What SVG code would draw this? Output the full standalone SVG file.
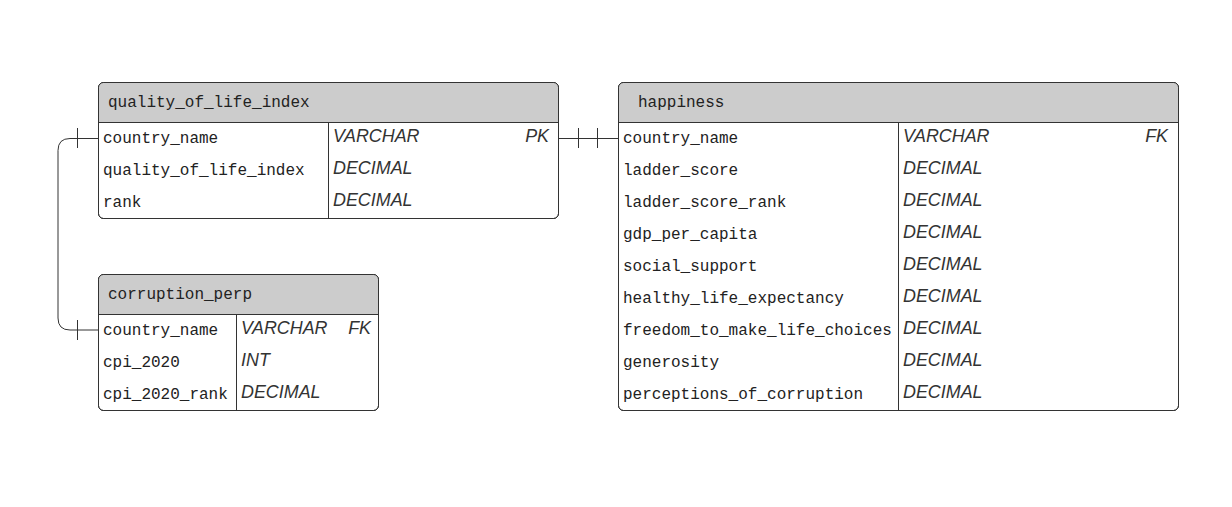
<svg xmlns="http://www.w3.org/2000/svg" width="1232" height="507" viewBox="0 0 1232 507">
<style>
.frame{fill:#ffffff;stroke:#333333;stroke-width:1}
.hdr{fill:#cccccc}
.ln{stroke:#333333;stroke-width:1;fill:none}
.mono{font-family:"Liberation Mono",monospace;font-size:16px;fill:#222222}
.typ{font-family:"Liberation Sans",Arial,sans-serif;font-style:italic;font-size:17.9px;fill:#333333}
.key{font-family:"Liberation Sans",Arial,sans-serif;font-style:italic;font-size:17.9px;fill:#333333;text-anchor:end}
</style>
<rect width="1232" height="507" fill="#ffffff"/>
<g id="connectors">
<path class="ln" d="M558.5 138.5 H618.5"/>
<path class="ln" d="M578.5 128 V148 M597.5 128 V148"/>
<path class="ln" d="M98.5 138.5 H70 Q58 138.5 58 150.5 V318 Q58 330 70 330 H98.5"/>
<path class="ln" d="M77.5 128 V148 M77.5 320 V340"/>
</g>
<g id="quality_of_life_index">
<rect class="frame" x="98.5" y="82.5" width="460" height="136" rx="5"/>
<path class="hdr" d="M103.5 83 H553.5 Q558 83 558 87.5 V122 H99 V87.5 Q99 83 103.5 83 Z"/>
<rect x="98.5" y="82.5" width="460" height="136" rx="5" fill="none" stroke="#333" stroke-width="1"/>
<path class="ln" d="M98.5 122.5 H558.5 M328.5 122.5 V218.5"/>
<text class="mono" x="108" y="107">quality_of_life_index</text>
<text class="mono" x="103" y="143">country_name</text>
<text class="mono" x="103" y="175">quality_of_life_index</text>
<text class="mono" x="103" y="207">rank</text>
<text class="typ" x="333" y="141.5">VARCHAR</text>
<text class="typ" x="333" y="173.5">DECIMAL</text>
<text class="typ" x="333" y="205.5">DECIMAL</text>
<text class="key" x="549" y="141.5">PK</text>
</g>
<g id="corruption_perp">
<rect class="frame" x="98.5" y="274.5" width="280" height="136" rx="5"/>
<path class="hdr" d="M103.5 275 H373.5 Q378 275 378 279.5 V314 H99 V279.5 Q99 275 103.5 275 Z"/>
<rect x="98.5" y="274.5" width="280" height="136" rx="5" fill="none" stroke="#333" stroke-width="1"/>
<path class="ln" d="M98.5 314.5 H378.5 M236.5 314.5 V410.5"/>
<text class="mono" x="108" y="299">corruption_perp</text>
<text class="mono" x="103" y="335">country_name</text>
<text class="mono" x="103" y="367">cpi_2020</text>
<text class="mono" x="103" y="399">cpi_2020_rank</text>
<text class="typ" x="241" y="333.5">VARCHAR</text>
<text class="typ" x="241" y="365.5">INT</text>
<text class="typ" x="241" y="397.5">DECIMAL</text>
<text class="key" x="371" y="333.5">FK</text>
</g>
<g id="happiness">
<rect class="frame" x="618.5" y="82.5" width="560" height="328" rx="5"/>
<path class="hdr" d="M623.5 83 H1173.5 Q1178 83 1178 87.5 V122 H619 V87.5 Q619 83 623.5 83 Z"/>
<rect x="618.5" y="82.5" width="560" height="328" rx="5" fill="none" stroke="#333" stroke-width="1"/>
<path class="ln" d="M618.5 122.5 H1178.5 M898.5 122.5 V410.5"/>
<text class="mono" x="638" y="107">happiness</text>
<text class="mono" x="623" y="143">country_name</text>
<text class="mono" x="623" y="175">ladder_score</text>
<text class="mono" x="623" y="207">ladder_score_rank</text>
<text class="mono" x="623" y="239">gdp_per_capita</text>
<text class="mono" x="623" y="271">social_support</text>
<text class="mono" x="623" y="303">healthy_life_expectancy</text>
<text class="mono" x="623" y="335">freedom_to_make_life_choices</text>
<text class="mono" x="623" y="367">generosity</text>
<text class="mono" x="623" y="399">perceptions_of_corruption</text>
<text class="typ" x="903" y="141.5">VARCHAR</text>
<text class="typ" x="903" y="173.5">DECIMAL</text>
<text class="typ" x="903" y="205.5">DECIMAL</text>
<text class="typ" x="903" y="237.5">DECIMAL</text>
<text class="typ" x="903" y="269.5">DECIMAL</text>
<text class="typ" x="903" y="301.5">DECIMAL</text>
<text class="typ" x="903" y="333.5">DECIMAL</text>
<text class="typ" x="903" y="365.5">DECIMAL</text>
<text class="typ" x="903" y="397.5">DECIMAL</text>
<text class="key" x="1168" y="141.5">FK</text>
</g>
</svg>
